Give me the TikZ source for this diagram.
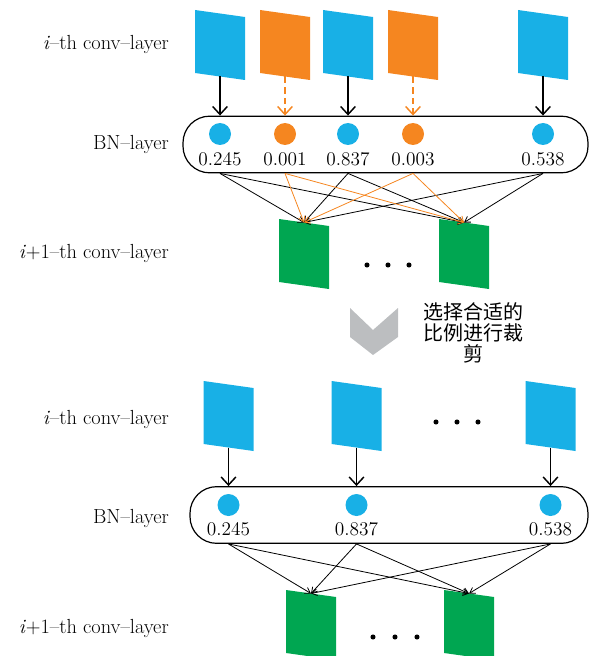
\documentclass[tikz,border=0pt]{standalone}
\usepackage{fontspec}
\newfontfamily\cjk{Noto Sans CJK SC}
\usetikzlibrary{arrows.meta}

\definecolor{mapblue}{HTML}{18B0E6}
\definecolor{maporange}{HTML}{F58620}
\definecolor{mapgreen}{HTML}{00A651}
\definecolor{arrowgray}{HTML}{BCBEC0}

% feature map: name, x, y, colour
\newcommand{\featmap}[4]{%
	\fill[#4] (#2-25,#3-35) -- (#2+25,#3-28) -- (#2+25,#3+35) -- (#2-25,#3+28) -- cycle;
	\coordinate (#1n) at (#2,#3-31.5);
	\coordinate (#1s) at (#2,#3+31.5);}

\begin{document}
\begin{tikzpicture}[x=0.75pt,y=-0.75pt,
	lbl/.style={anchor=east,inner sep=0,font=\fontsize{15.3}{18}\selectfont},
	val/.style={inner sep=0,font=\fontsize{14.5}{17}\selectfont},
	bn/.style={draw,line width=0.9pt,rounded corners=20pt,inner sep=0,minimum height=42.5pt},
	unit/.style={circle,inner sep=0,minimum size=16.5pt},
	dot/.style={circle,fill=black,inner sep=0,minimum size=3.8pt},
	feed/.style={line width=0.9pt,-{Straight Barb[length=6pt,width=11pt,line width=1.1pt]}},
	pruned/.style={maporange,dash pattern=on 5pt off 3pt},
	link/.style={line width=0.6pt,-{Straight Barb[length=4pt,width=5pt]}}]
	\clip (0,0) rectangle (590,656);

	\node[lbl] (l1) at (169,44) {\textit{i}--th conv--layer};
	\node[lbl] (l2) at (169,144) {BN--layer};
	\node[lbl] (l3) at (169,253) {\textit{i}+1--th conv--layer};

	\featmap{a1}{220}{45}{mapblue}
	\featmap{a2}{285}{45}{maporange}
	\featmap{a3}{348}{45}{mapblue}
	\featmap{a4}{413}{45}{maporange}
	\featmap{a5}{543}{45}{mapblue}

	\node[bn,minimum width=303.75pt] (bn1) at (385.5,144.5) {};
	\node[unit,fill=mapblue] (c1) at (220,134) {};
	\node[unit,fill=maporange] (c2) at (285,134) {};
	\node[unit,fill=mapblue] (c3) at (348,134) {};
	\node[unit,fill=maporange] (c4) at (413,134) {};
	\node[unit,fill=mapblue] (c5) at (543,134) {};
	\node[val] (v1) at (220,159) {0.245};
	\node[val] (v2) at (285,159) {0.001};
	\node[val] (v3) at (348,159) {0.837};
	\node[val] (v4) at (413,159) {0.003};
	\node[val] (v5) at (543,159) {0.538};

	\draw[feed] (a1s) -- (a1s |- bn1.north);
	\draw[feed,pruned] (a2s) -- (a2s |- bn1.north);
	\draw[feed] (a3s) -- (a3s |- bn1.north);
	\draw[feed,pruned] (a4s) -- (a4s |- bn1.north);
	\draw[feed] (a5s) -- (a5s |- bn1.north);

	\featmap{g1}{304}{254}{mapgreen}
	\featmap{g2}{464}{254}{mapgreen}
	\node[dot] (d1) at (367,265) {};
	\node[dot] (d2) at (388,265) {};
	\node[dot] (d3) at (409,265) {};

	\foreach \c/\col in {c1/black,c3/black,c5/black,c2/maporange,c4/maporange}
		\foreach \g in {g1,g2}
			\draw[link,\col] (\c |- bn1.south) -- (\g n);

	\fill[arrowgray] (350,308) -- (373,330) -- (398,308) -- (398,337) -- (373,355) -- (350,337) -- cycle;
	\node[align=center,inner sep=0,font=\cjk\fontsize{15}{15.9}\selectfont] (t1) at (473,333) {选择合适的\\比例进行裁\\剪};

	\node[lbl] (l4) at (169,419) {\textit{i}--th conv--layer};
	\node[lbl] (l5) at (169,518) {BN--layer};
	\node[lbl] (l6) at (169,628) {\textit{i}+1--th conv--layer};

	\featmap{b1}{228.5}{416}{mapblue}
	\featmap{b2}{356.5}{416}{mapblue}
	\featmap{b3}{550.5}{416}{mapblue}
	\node[dot] (d4) at (436,422) {};
	\node[dot] (d5) at (457,422) {};
	\node[dot] (d6) at (478,422) {};

	\node[bn,minimum width=298.5pt] (bn2) at (389,515) {};
	\node[unit,fill=mapblue] (e1) at (228.5,505) {};
	\node[unit,fill=mapblue] (e2) at (356.5,505) {};
	\node[unit,fill=mapblue] (e3) at (550.5,505) {};
	\node[val] (w1) at (228.5,529) {0.245};
	\node[val] (w2) at (356.5,529) {0.837};
	\node[val] (w3) at (550.5,529) {0.538};

	\draw[feed] (b1s) -- (b1s |- bn2.north);
	\draw[feed] (b2s) -- (b2s |- bn2.north);
	\draw[feed] (b3s) -- (b3s |- bn2.north);

	\featmap{h1}{311}{625}{mapgreen}
	\featmap{h2}{469}{625}{mapgreen}
	\node[dot] (d7) at (373,637) {};
	\node[dot] (d8) at (395,637) {};
	\node[dot] (d9) at (417,637) {};

	\foreach \c in {e1,e2,e3}
		\foreach \g in {h1,h2}
			\draw[link] (\c |- bn2.south) -- (\g n);
\end{tikzpicture}
\end{document}
